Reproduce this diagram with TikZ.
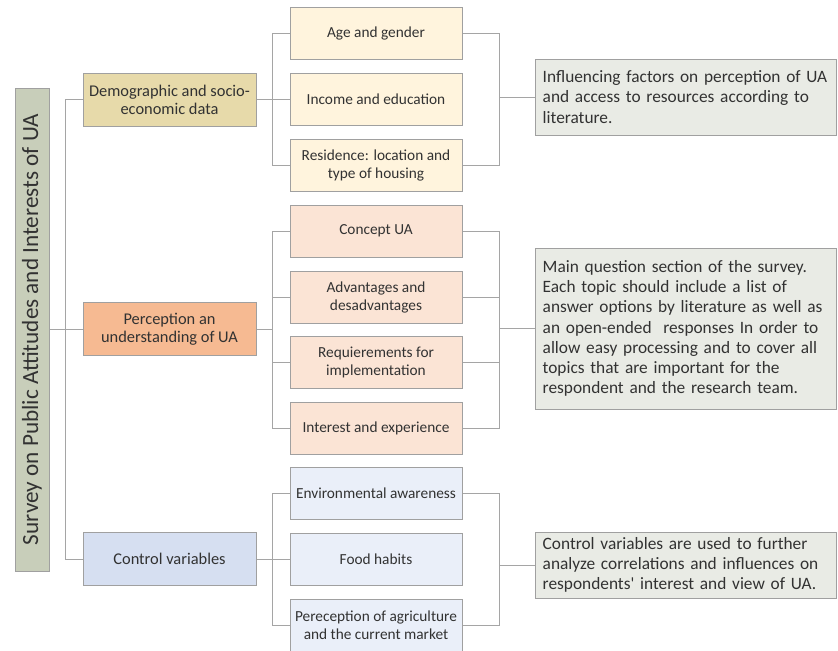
\documentclass[tikz,border=0pt]{standalone}
\usepackage{fontspec}
\setmainfont{Carlito}
\definecolor{bordc}{RGB}{160,160,160}
\definecolor{connc}{RGB}{165,165,165}
\definecolor{txtc}{RGB}{50,50,50}
\definecolor{titlefill}{RGB}{200,206,186}
\definecolor{demofill}{RGB}{231,218,170}
\definecolor{demoleaf}{RGB}{255,244,221}
\definecolor{percfill}{RGB}{246,186,146}
\definecolor{percleaf}{RGB}{251,228,213}
\definecolor{ctrlfill}{RGB}{214,223,241}
\definecolor{ctrlleaf}{RGB}{234,239,249}
\definecolor{comfill}{RGB}{233,235,229}
\tikzset{
  box/.style={draw=bordc, line width=0.75pt, inner sep=0pt, align=center, text=txtc},
  catbox/.style={box, minimum width=129.75pt, minimum height=39.75pt, font=\fontsize{12.3}{13.5}\selectfont},
  leafbox/.style={box, minimum width=129pt, minimum height=39pt, font=\fontsize{11.5}{13.5}\selectfont},
  combox/.style={draw=bordc, line width=0.75pt, fill=comfill, text=txtc, anchor=west,
     text width=215pt, inner xsep=5.4pt, inner ysep=0pt, align=left,
     font=\fontsize{13}{15.2}\selectfont},
  conn/.style={draw=connc, line width=0.75pt}
}
\begin{document}
\begin{tikzpicture}[x=0.75pt,y=-0.75pt]
\fill[white] (0,0) rectangle (838,650);
\useasboundingbox (0,0) rectangle (838,650);
% title
\node[box, fill=titlefill, rotate=90, minimum width=362.25pt, minimum height=25.5pt,
  font=\fontsize{17.4}{20}\selectfont] (title) at (32,329.5) {Survey on Public Attitudes and Interests of UA};
% categories
\node[catbox, fill=demofill] (demo) at (169.5,99.5) {Demographic and socio-\\economic data};
\node[catbox, fill=percfill] (perc) at (169.5,329) {Perception an\\understanding of UA};
\node[catbox, fill=ctrlfill] (ctrl) at (169.5,559) {Control variables};
% leaves group 1
\node[leafbox, fill=demoleaf] (age) at (376,33.5) {Age and gender};
\node[leafbox, fill=demoleaf] (income) at (376,99.5) {Income and education};
\node[leafbox, fill=demoleaf] (res) at (376,165) {Residence: location and\\type of housing};
% leaves group 2
\node[leafbox, fill=percleaf] (concept) at (376,231) {Concept UA};
\node[leafbox, fill=percleaf] (adv) at (376,297) {Advantages and\\desadvantages};
\node[leafbox, fill=percleaf] (req) at (376,362) {Requierements for\\implementation};
\node[leafbox, fill=percleaf] (inter) at (376,428) {Interest and experience};
% leaves group 3
\node[leafbox, fill=ctrlleaf] (env) at (376,493) {Environmental awareness};
\node[leafbox, fill=ctrlleaf] (food) at (376,559) {Food habits};
\node[leafbox, fill=ctrlleaf] (pere) at (376,625) {Pereception of agriculture\\and the current market};
% comments
\node[combox, minimum height=57pt] (c1) at (535,97) {Influencing factors on perception of UA\\and access to resources according to\\literature.};
\node[combox, minimum height=120.75pt] (c2) at (535,328.5) {Main question section of the survey.\\Each topic should include a list of\\answer options by literature as well as\\an open-ended \ responses In order to\\allow easy processing and to cover all\\topics that are important for the\\respondent and the research team.};
\node[combox, minimum height=49.5pt] (c3) at (535,565) {Control variables are used to further\\analyze correlations and influences on\\respondents\textquotesingle{} interest and view of UA.};
% connectors: main trunk
\draw[conn] (title.south |- perc.west) -- (perc.west);
\draw[conn] (demo.west) -- ++(-17,0) |- (ctrl.west);
% group 1
\draw[conn] (demo.east) -- (income.west);
\draw[conn] (age.west) -- ++(-17,0) |- (res.west);
\draw[conn] (age.east) -- ++(37,0) |- (res.east);
\draw[conn] (c1.west) -- ++(-36,0);
% group 2
\coordinate (j2) at (273,329);
\draw[conn] (perc.east) -- (j2);
\draw[conn] (concept.west) -- ++(-17,0) |- (inter.west);
\draw[conn] (adv.west) -- ++(-17,0);
\draw[conn] (req.west) -- ++(-17,0);
\draw[conn] (concept.east) -- ++(37,0) |- (inter.east);
\draw[conn] (adv.east) -- ++(37,0);
\draw[conn] (req.east) -- ++(37,0);
\draw[conn] (c2.west) -- ++(-36,0);
% group 3
\draw[conn] (ctrl.east) -- (food.west);
\draw[conn] (env.west) -- ++(-17,0) |- (pere.west);
\draw[conn] (env.east) -- ++(37,0) |- (pere.east);
\draw[conn] (c3.west) -- ++(-36,0);
\end{tikzpicture}
\end{document}
